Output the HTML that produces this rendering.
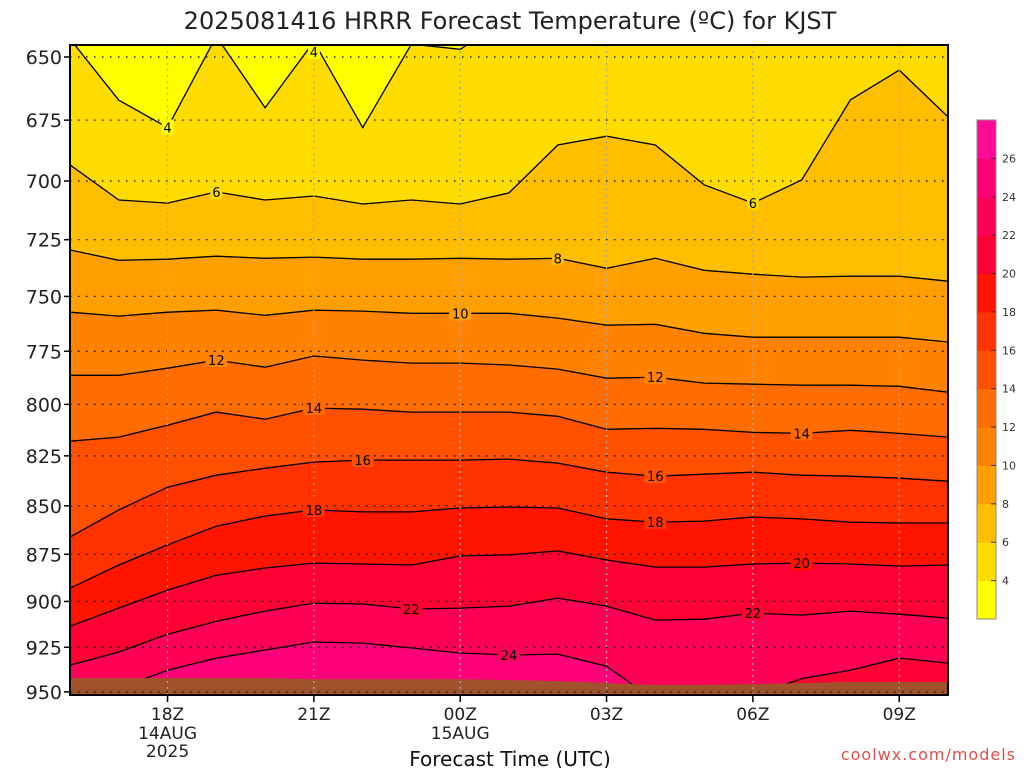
<!DOCTYPE html>
<html><head><meta charset="utf-8"><style>
html,body{margin:0;padding:0;background:#fff;}
svg{display:block;font-family:"DejaVu Sans","Liberation Sans",sans-serif;}
</style></head><body>
<svg id="chart" width="1024" height="768" viewBox="0 0 1024 768" xmlns="http://www.w3.org/2000/svg">
<defs><clipPath id="plotclip"><rect x="70" y="45" width="878" height="650"/></clipPath></defs>
<text x="510" y="29" text-anchor="middle" font-size="24" fill="#222">2025081416 HRRR Forecast Temperature (ºC) for KJST</text>
<g id="plot" clip-path="url(#plotclip)"></g>
<g id="overlay"></g>
<rect x="70" y="45" width="878" height="650" fill="none" stroke="#000" stroke-width="2"/>
<g id="yaxis"></g>
<g id="xaxis"></g>
<text x="510" y="766" text-anchor="middle" font-size="20" fill="#111">Forecast Time (UTC)</text>
<text x="1016" y="760" text-anchor="end" font-size="16" fill="#e0504a" letter-spacing="1">coolwx.com/models</text>
<g id="colorbar"></g>
</svg>
<script>
const hours = [16,17,18,19,20,21,22,23,24,25,26,27,28,29,30,31,32,33,34];
const levels = [4,6,8,10,12,14,16,18,20,22,24];
const c4  = [643,667,678,642,670,644,678,645,647,635,635,635,635,635,635,635,635,635,635];
const c6  = [693.3,708.0,709.3,704.6,708.0,706.3,709.7,708.0,709.7,705.0,685.1,681.5,685.1,701.6,709.3,699.6,666.9,655.1,673.7];
const c8  = [729.5,734.0,733.5,732.2,733.1,732.6,733.5,733.5,733.1,733.5,733.1,737.5,733.1,738.4,740.1,741.4,741.0,741.0,743.2];
const c10 = [757.1,758.9,757.1,756.2,758.5,756.2,756.6,757.6,757.6,757.6,759.8,763.0,762.6,766.7,768.5,768.5,768.5,768.5,770.7];
const c12 = [786.2,786.2,782.9,779.1,782.4,777.2,779.1,780.5,780.5,781.4,783.3,787.6,787.1,789.9,790.4,790.9,790.9,791.4,794.2];
const c14 = [817.8,815.8,810.0,803.7,807.1,801.8,802.3,803.7,803.7,803.7,805.7,812.0,811.5,812.0,813.5,814.0,812.5,814.0,815.8];
const c16 = [866.0,852.1,840.6,834.6,831.1,828.1,827.1,827.1,827.1,826.6,828.6,833.1,835.1,834.1,833.1,834.6,835.1,836.1,837.6];
const c18 = [892.9,880.6,870.1,860.4,855.2,852.1,853.1,853.1,851.1,850.6,851.1,856.7,858.3,857.8,855.7,856.7,858.3,858.8,858.8];
const c20 = [913.4,903.6,893.9,886.0,882.2,879.6,880.1,880.6,875.9,875.3,873.2,878.0,881.7,881.7,880.1,879.6,880.1,881.2,880.6];
const c22 = [934.9,927.6,917.8,910.7,905.2,900.9,901.4,904.1,903.6,902.5,898.2,902.5,910.1,909.6,906.3,907.4,905.2,906.9,909.0];
const c24 = [960,948,937.8,931.0,926.5,922.1,922.7,925.4,928.2,929.3,928.8,935.5,955,960,960,960,960,960,960];
const inv22 = [960,960,960,960,960,960,960,960,960,960,960,960,960,960,952,942.5,937.8,931.0,933.8];
const surface = [942.2,942.2,942.2,942.2,942.2,942.8,942.8,942.8,942.8,943.3,943.9,945.0,946.1,946.1,945.6,945.0,944.4,944.4,944.4];
const labelLevels = [4,4,6,6,8,10,12,12,14,14,16,16,18,18,20,22,22,24];
const labelHours  = [18,21,19,30,26,24,19,28,21,31,22,28,21,28,31,23,30,25];
const yTicks = [650,675,700,725,750,775,800,825,850,875,900,925,950];
const xTickHours = [18,21,24,27,30,33];
const xTickLabels = ["18Z","21Z","00Z","03Z","06Z","09Z"];
const xDateLabels = ["14AUG","","15AUG","","",""];
const xYearLabels = ["2025","","","","",""];
const bandLevels = [2,4,6,8,10,12,14,16,18,20,22,24,26,28];
const bandColors = ["#ffff00","#ffdc00","#ffbe00","#ffa000","#ff8200","#ff6c00","#ff5000","#ff3200","#ff1400","#ff0034","#ff0058","#ff0078","#ff0a94"];
const contours = [c4,c6,c8,c10,c12,c14,c16,c18,c20,c22,c24];

const NS="http://www.w3.org/2000/svg";
const X0=70,X1=948,Y0=45,Y1=695;
function x(h){return X0+(h-16)*(X1-X0)/18;}
function y(p){return 57+1673*Math.log(p/650);}
function colorFor(level){return bandColors[bandLevels.indexOf(level)];}
function mk(tag,parent,attrs){const e=document.createElementNS(NS,tag);for(const k in attrs)e.setAttribute(k,attrs[k]);parent.appendChild(e);return e;}
const plot=document.getElementById('plot');
const overlay=document.getElementById('overlay');

let bg=mk('rect',plot,{x:X0,y:Y0,width:X1-X0,height:Y1-Y0,fill:bandColors[0]});



function pts(arr){return hours.map((h,i)=>x(h).toFixed(1)+','+y(arr[i]).toFixed(1));}
function fillBelow(arr,color,name){
  const p=pts(arr).concat([X1+5+','+(Y1+20),(X0-5)+','+(Y1+20)]);
  const el=mk('polygon',plot,{points:p.join(' '),fill:color});
  
  
}
function strokeLine(arr,name){
  const el=mk('polyline',plot,{points:pts(arr).join(' '),fill:'none',stroke:'#000','stroke-width':1.3});
  
  
}
levels.forEach((L,i)=>{fillBelow(contours[i],colorFor(L),'band-'+L);});
fillBelow(inv22,colorFor(20),'inversion-band-20');
levels.forEach((L,i)=>{strokeLine(contours[i],'contour-'+L);});
strokeLine(inv22,'contour-22-inversion');
fillBelow(surface,'#a0522d','ground');

// grid
yTicks.forEach(p=>{
  const g=mk('line',plot,{x1:X0,x2:X1,y1:y(p),y2:y(p),stroke:'#000','stroke-width':1.2,'stroke-dasharray':'1.5 6.5'});
  
  
});
xTickHours.forEach(h=>{
  const g=mk('line',plot,{x1:x(h),x2:x(h),y1:Y0,y2:Y1,stroke:'#aaa','stroke-width':1.2,'stroke-dasharray':'2 4'});
  
  
});

// contour labels
labelLevels.forEach((L,i)=>{
  const h=labelHours[i];
  const arr=contours[levels.indexOf(L)];
  const p=arr[hours.indexOf(h)];
  const cx=x(h), cy=Math.max(y(p),52);
  const w=L>=10?22:12;
  const r=mk('rect',overlay,{x:cx-w/2,y:cy-8,width:w,height:15,fill:colorFor(L-2)});
  
  
  const t=mk('text',overlay,{x:cx,y:cy+5,'text-anchor':'middle','font-size':13,fill:'#000'});
  t.textContent=L;
  
  
});

// y axis
const ya=document.getElementById('yaxis');
yTicks.forEach(p=>{
  const tk=mk('line',ya,{x1:64,x2:70,y1:y(p),y2:y(p),stroke:'#000','stroke-width':1.5});
  
  
  const t=mk('text',ya,{x:62,y:y(p)+7,'text-anchor':'end','font-size':19,fill:'#222'});
  t.textContent=p;
  
  
});
// x axis
const xa=document.getElementById('xaxis');
xTickHours.forEach((h,i)=>{
  const tk=mk('line',xa,{x1:x(h),x2:x(h),y1:Y1,y2:Y1+7,stroke:'#000','stroke-width':1.5});
  
  
  [[xTickLabels[i],720],[xDateLabels[i],739],[xYearLabels[i],757]].forEach(([s,yy])=>{
    if(!s)return;
    const t=mk('text',xa,{x:x(h),y:yy,'text-anchor':'middle','font-size':17,fill:'#222'});
    t.textContent=s;
    
    
  });
});
// colorbar
const cb=document.getElementById('colorbar');
const CB0=120,CB1=619,n=bandColors.length,bh=(CB1-CB0)/n;
bandColors.forEach((c,i)=>{
  const r=mk('rect',cb,{x:977,y:CB1-(i+1)*bh,width:19,height:bh+0.5,fill:c});
  
  
});
mk('rect',cb,{x:977,y:CB0,width:19,height:CB1-CB0,fill:'none',stroke:'#888','stroke-width':1});
bandLevels.slice(1,-1).forEach((L,i)=>{
  const yy=CB1-(i+1)*bh;
  mk('line',cb,{x1:991,x2:996,y1:yy,y2:yy,stroke:'#333','stroke-width':1});
  const t=mk('text',cb,{x:1002,y:yy+4,'font-size':11,fill:'#333'});
  t.textContent=L;
  
  
});
</script>
</body></html>
